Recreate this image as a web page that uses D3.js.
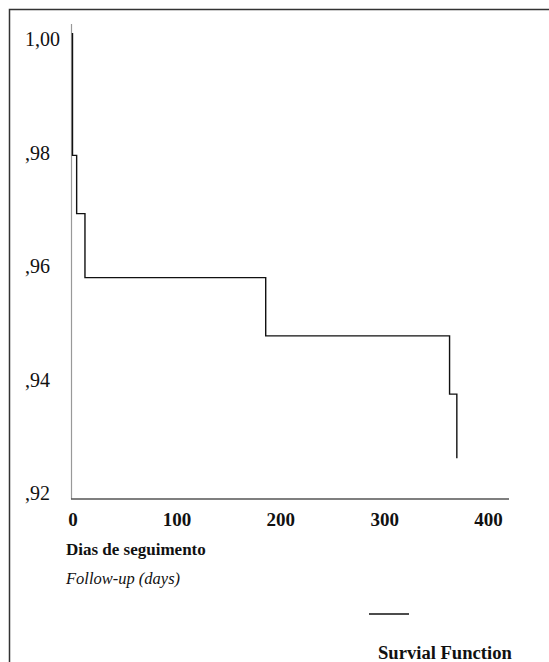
<!DOCTYPE html>
<html>
<head>
<meta charset="utf-8">
<script src="https://cdn.jsdelivr.net/npm/d3@7"></script>
<style>
  html, body { margin: 0; padding: 0; background: #fff; }
  svg { display: block; }
  text { font-family: "Liberation Serif", "DejaVu Serif", serif; fill: #111; }
</style>
</head>
<body>
<div id="chart"></div>
<script>
// ---- data ----
const survTimes  = [0, 0, 4, 12, 186, 363, 370];
const survValues = [1.000, 0.979, 0.969, 0.958, 0.948, 0.938, 0.927];
const xTicks = [0, 100, 200, 300, 400];
const yTicks = [1.00, 0.98, 0.96, 0.94, 0.92];
const yTickLabels = ["1,00", ",98", ",96", ",94", ",92"];
const xTitle1 = "Dias de seguimento";
const xTitle2 = "Follow-up (days)";
const legendLabel = "Survial Function";

const W = 549, H = 662;
const svg = d3.select("#chart").append("svg").attr("width", W).attr("height", H);
svg.append("rect").attr("width", W).attr("height", H).attr("fill", "#fff");

// frame (top + left)
svg.append("path").attr("d", `M9.5,${H} V9.5 H${W}`)
  .attr("fill", "none").attr("stroke", "#333").attr("stroke-width", 1.5);

const x = d3.scaleLinear().domain([0, 400]).range([72.5, 488]);
const y = d3.scaleLinear().domain([0.92, 1.00]).range([499, 33]);

// y axis line (gray)
svg.append("line").attr("x1", 71.5).attr("x2", 71.5).attr("y1", 24).attr("y2", 499)
  .attr("stroke", "#999").attr("stroke-width", 1.2);
// x axis line
svg.append("line").attr("x1", 71).attr("x2", 509).attr("y1", 499).attr("y2", 499)
  .attr("stroke", "#555").attr("stroke-width", 1.3);

// x tick labels via axis
const xAxis = d3.axisBottom(x).tickValues(xTicks).tickSize(0).tickPadding(0)
  .tickFormat(d3.format("d"));
const gx = svg.append("g").attr("transform", "translate(0,512)").call(xAxis);
gx.select(".domain").remove();
gx.selectAll("text").attr("font-family", "Liberation Serif, serif")
  .attr("font-size", 19).attr("font-weight", "bold").attr("fill", "#111")
  .attr("dy", "0.71em");

// y tick labels (left aligned)
const gy = svg.append("g");
gy.selectAll("text").data(yTicks).join("text")
  .attr("x", 25).attr("y", d => y(d) + (d - 0.96) * 150).attr("dy", "0.35em")
  .attr("font-size", 20).text((d, i) => yTickLabels[i]);

// survival step curve
const line = d3.line().x(d => x(d[0])).y(d => y(d[1])).curve(d3.curveStepAfter);
svg.append("path").datum(survTimes.map((t, i) => [t, survValues[i]]))
  .attr("d", line).attr("fill", "none").attr("stroke", "#111").attr("stroke-width", 1.4);

// axis titles
svg.append("text").attr("x", 66).attr("y", 555).attr("font-size", 17)
  .attr("font-weight", "bold").text(xTitle1);
svg.append("text").attr("x", 66).attr("y", 584).attr("font-size", 16.5)
  .attr("font-style", "italic").text(xTitle2);

// legend
svg.append("line").attr("x1", 369).attr("x2", 409).attr("y1", 614).attr("y2", 614)
  .attr("stroke", "#111").attr("stroke-width", 1.5);
svg.append("text").attr("x", 378).attr("y", 659).attr("font-size", 18.6)
  .attr("font-weight", "bold").text(legendLabel);
</script>
</body>
</html>
